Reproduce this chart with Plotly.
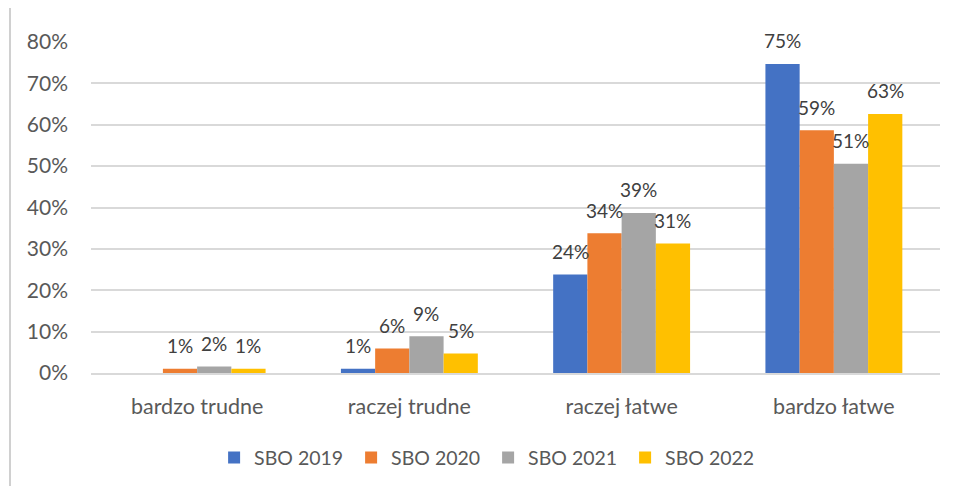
import plotly.graph_objects as go

categories = ["bardzo trudne", "raczej trudne", "raczej łatwe", "bardzo łatwe"]
series_names = ["SBO 2019", "SBO 2020", "SBO 2021", "SBO 2022"]
sbo_2019 = [0.0, 0.010, 0.238, 0.747]
sbo_2020 = [0.010, 0.059, 0.338, 0.587]
sbo_2021 = [0.016, 0.089, 0.387, 0.506]
sbo_2022 = [0.010, 0.047, 0.313, 0.626]
colors = ["#4472C4", "#ED7D31", "#A5A5A5", "#FFC000"]
y_ticks = [0, 0.1, 0.2, 0.3, 0.4, 0.5, 0.6, 0.7, 0.8]

FONT = "Lato, 'Open Sans', sans-serif"
# page body has an 8px margin, so the figure is a bit smaller than the window
W, H = 950, 478
M_L, M_R, M_T, M_B = 83, 18, 34, 113
plot_w = W - M_L - M_R
plot_h = H - M_T - M_B
bar_px = plot_w / len(categories) * (1 - 0.355) / len(series_names)

fig = go.Figure()
all_series = [sbo_2019, sbo_2020, sbo_2021, sbo_2022]
for name, vals, col in zip(series_names, all_series, colors):
    fig.add_trace(go.Bar(
        x=categories, y=vals, name=name,
        marker=dict(color=col, line=dict(width=0)),
    ))

# data labels, Excel puts them a bit higher than plotly's "outside"
for i, vals in enumerate(all_series):
    shift = (i - 1.5) * bar_px
    for cat, v in zip(categories, vals):
        if v <= 0:
            continue
        fig.add_annotation(
            x=cat, y=v, xref="x", yref="y",
            text=f"{v * 100:.0f}%", showarrow=False,
            xshift=shift, yshift=23, yanchor="middle",
            font=dict(size=19, color="#404040", family=FONT),
        )

# chart border (cropped Excel chart area): left and top edge
bx = (2 - M_L) / plot_w
by = (H - M_T - 4) / plot_h
fig.add_shape(type="line", xref="paper", yref="paper",
              x0=bx, x1=bx, y0=-(M_B + 10) / plot_h, y1=by,
              line=dict(color="#D0D0D0", width=2))
fig.add_shape(type="line", xref="paper", yref="paper",
              x0=bx, x1=(W - M_L) / plot_w, y0=by, y1=by,
              line=dict(color="#D0D0D0", width=2))

fig.update_layout(
    width=W, height=H,
    barmode="group", bargap=0.355, bargroupgap=0,
    plot_bgcolor="white", paper_bgcolor="white",
    margin=dict(l=M_L, r=M_R, t=M_T, b=M_B),
    font=dict(family=FONT, size=16, color="#595959"),
    xaxis=dict(
        showgrid=False, showline=True, linecolor="#D9D9D9", linewidth=1.5,
        ticks="", ticklabelstandoff=13, tickfont=dict(size=21.5),
    ),
    yaxis=dict(
        range=[0, 0.8], tickvals=y_ticks, tickformat=".0%",
        showgrid=True, gridcolor="#D9D9D9", gridwidth=1.5,
        zeroline=False, showline=False, ticks="", ticklabelstandoff=22,
        tickfont=dict(size=21),
    ),
    legend=dict(
        orientation="h", x=0.145, xanchor="left",
        yref="container", y=0.059, yanchor="middle",
        font=dict(size=19.5), entrywidth=92, itemwidth=30,
    ),
    showlegend=True,
)

fig.write_html("out.html")
